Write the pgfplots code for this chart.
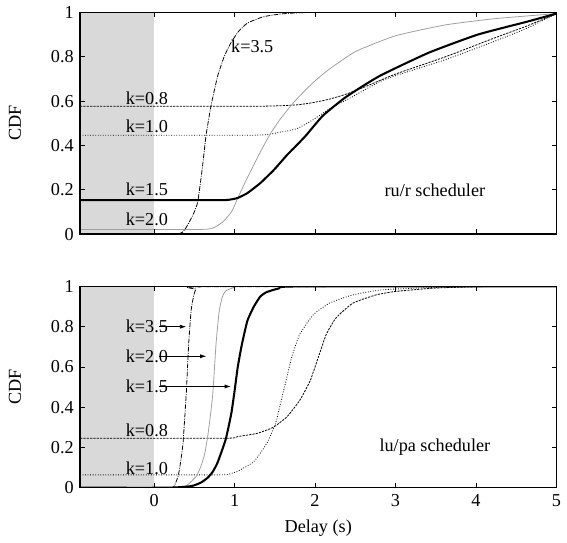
\documentclass[border=0pt]{standalone}
\usepackage{fontspec}
\setmainfont{Liberation Serif}
\usepackage{pgfplots}
\pgfplotsset{compat=1.18}
\usetikzlibrary{arrows.meta}
\begin{document}
\fontsize{11.5pt}{13pt}\selectfont
\begin{tikzpicture}
\pgfplotsset{
  cdfaxis/.style={
    scale only axis, width=301pt, xmin=-0.92, xmax=5, ymin=0, ymax=1,
    xtick={0,1,2,3,4,5}, ytick={0,0.2,0.4,0.6,0.8,1},
    tick align=inside, major tick length=3pt,
    /pgf/number format/assume math mode=true,
    ylabel={CDF},
    ylabel style={at={(axis description cs:-0.137,0.5)}, anchor=center},
    axis line style={line width=0.8pt},
    tick style={black, line width=0.5pt},
    axis on top,
    every axis plot/.append style={line join=round},
  },
  k35/.style={black, line width=0.5pt, dash pattern=on 3pt off 0.8pt on 0.6pt off 0.8pt},
  k20/.style={gray!75, line width=0.5pt},
  k15/.style={black, line width=1.3pt},
  k08/.style={black, line width=0.5pt, dash pattern=on 1.4pt off 0.7pt},
  k10/.style={black, line width=0.55pt, dash pattern=on 0.5pt off 1.1pt},
}
\path (-50.6pt,-193.2pt) rectangle (303.75pt,147.9pt);
% ---------------- top ----------------
\begin{axis}[cdfaxis, height=140pt, xticklabels={}]
\addplot[fill=gray!30, draw=none, forget plot] coordinates {(-0.92,0) (0,0) (0,1) (-0.92,1)} --cycle;
\addplot[k08, smooth, tension=0.3] coordinates {(-0.92,0.577) (1.3,0.577) (1.77,0.583) (2.0,0.595) (2.18,0.609) (2.39,0.632) (2.59,0.66) (3.0,0.722) (3.62,0.80) (4.23,0.885) (4.64,0.94) (5,0.995)};
\addplot[k10, smooth, tension=0.3] coordinates {(-0.92,0.446) (1.2,0.446) (1.45,0.452) (1.57,0.46) (1.77,0.475) (1.95,0.51) (2.18,0.565) (2.39,0.605) (2.80,0.687) (3.0,0.715) (3.62,0.787) (4.23,0.870) (4.64,0.93) (5,0.995)};
\addplot[k20, smooth, tension=0.3] coordinates {(-0.92,0.021) (0.58,0.021) (0.75,0.03) (0.87,0.06) (0.97,0.105) (1.04,0.163) (1.16,0.255) (1.32,0.37) (1.44,0.45) (1.57,0.52) (1.69,0.575) (1.8,0.62) (1.98,0.685) (2.18,0.745) (2.51,0.825) (3.0,0.895) (3.62,0.944) (4.23,0.972) (5,0.995)};
\addplot[k35, smooth, tension=0.3] coordinates {(-0.92,0) (0.26,0) (0.38,0.02) (0.46,0.07) (0.5,0.1) (0.544,0.148) (0.6,0.3) (0.646,0.446) (0.708,0.58) (0.79,0.713) (0.87,0.80) (0.953,0.862) (1.05,0.915) (1.16,0.952) (1.35,0.98) (1.57,0.993) (2,1) (5,1)};
\addplot[k15, smooth, tension=0.3] coordinates {(-0.92,0.153) (0.8,0.153) (0.95,0.156) (1.04,0.163) (1.16,0.185) (1.32,0.23) (1.49,0.29) (1.65,0.356) (1.77,0.40) (1.89,0.446) (2.10,0.535) (2.39,0.62) (2.80,0.713) (3.41,0.818) (4.02,0.90) (4.64,0.959) (5,0.995)};
\node at (axis cs:1.22,0.847) {k=3.5};
\node at (axis cs:-0.09,0.614) {k=0.8};
\node at (axis cs:-0.09,0.487) {k=1.0};
\node at (axis cs:-0.09,0.20) {k=1.5};
\node at (axis cs:-0.09,0.066) {k=2.0};
\node at (axis cs:3.49,0.197) {ru/r scheduler};
\end{axis}
% ---------------- bottom ----------------
\begin{axis}[cdfaxis, height=127.2pt, at={(0,-33.1pt)}, anchor=north west,
  xlabel={Delay (s)},
  xlabel style={at={(axis description cs:0.5,-0.201)}, anchor=center}]
\addplot[fill=gray!30, draw=none, forget plot] coordinates {(-0.92,0) (0,0) (0,1) (-0.92,1)} --cycle;
\addplot[k08, smooth, tension=0.3] coordinates {(-0.92,0.246) (0.9,0.246) (1.036,0.254) (1.28,0.27) (1.48,0.30) (1.65,0.352) (1.81,0.434) (1.94,0.532) (2.04,0.647) (2.14,0.762) (2.26,0.843) (2.47,0.917) (2.76,0.958) (3.0,0.975) (3.5,0.992) (4.2,1) (5,1)};
\addplot[k10, smooth, tension=0.3] coordinates {(-0.92,0.064) (0.8,0.064) (0.95,0.07) (1.04,0.082) (1.24,0.13) (1.40,0.22) (1.51,0.32) (1.61,0.483) (1.71,0.647) (1.81,0.762) (1.98,0.86) (2.18,0.917) (2.47,0.958) (2.83,0.983) (3.5,0.995) (4.2,1) (5,1)};
\addplot[k20, smooth, tension=0.3] coordinates {(-0.92,0) (0.30,0) (0.40,0.01) (0.46,0.03) (0.53,0.06) (0.585,0.11) (0.63,0.17) (0.667,0.257) (0.70,0.36) (0.73,0.47) (0.77,0.715) (0.81,0.88) (0.85,0.95) (0.89,0.978) (1.0,0.995) (1.2,1) (5,1)};
\addplot[k35, smooth, tension=0.3] coordinates {(-0.92,0) (0.17,0) (0.25,0.01) (0.30,0.06) (0.33,0.13) (0.36,0.224) (0.40,0.47) (0.43,0.715) (0.46,0.88) (0.49,0.95) (0.52,0.986) (0.6,0.998) (5,1)};
\addplot[k15, smooth, tension=0.3] coordinates {(-0.92,0) (0.17,0) (0.46,0.008) (0.58,0.025) (0.667,0.05) (0.73,0.08) (0.79,0.126) (0.89,0.24) (0.96,0.37) (1.0,0.48) (1.04,0.60) (1.09,0.71) (1.16,0.83) (1.24,0.90) (1.32,0.95) (1.40,0.972) (1.55,0.99) (1.77,1) (5,1)};
\node at (axis cs:-0.09,0.80) {k=3.5};
\node at (axis cs:-0.09,0.653) {k=2.0};
\node at (axis cs:-0.09,0.503) {k=1.5};
\node at (axis cs:-0.09,0.287) {k=0.8};
\node at (axis cs:-0.09,0.096) {k=1.0};
\draw[-{Latex[length=4pt,width=2.6pt]}, line width=0.5pt] (axis cs:0.06,0.80) -- (axis cs:0.40,0.80);
\draw[-{Latex[length=4pt,width=2.6pt]}, line width=0.5pt] (axis cs:0.06,0.653) -- (axis cs:0.65,0.653);
\draw[-{Latex[length=4pt,width=2.6pt]}, line width=0.5pt] (axis cs:0.06,0.503) -- (axis cs:0.955,0.503);
\node at (axis cs:3.49,0.20) {lu/pa scheduler};
\end{axis}
\end{tikzpicture}
\end{document}
